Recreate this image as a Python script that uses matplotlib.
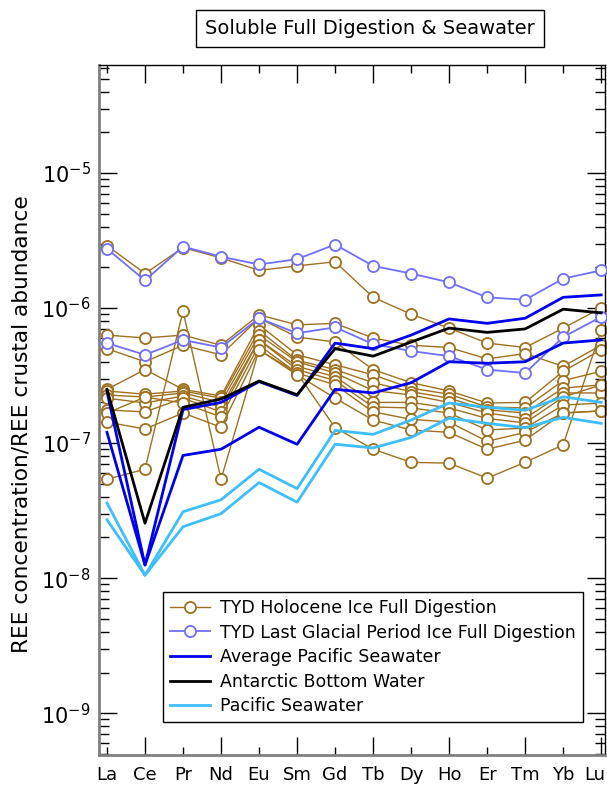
import numpy as np
import matplotlib.pyplot as plt
import matplotlib.transforms as mtransforms
from matplotlib.ticker import LogLocator, FixedLocator, NullFormatter

elements = ['La', 'Ce', 'Pr', 'Nd', 'Eu', 'Sm', 'Gd', 'Tb', 'Dy', 'Ho', 'Er', 'Tm', 'Yb', 'Lu']
decades = [1e-9, 1e-8, 1e-7, 1e-6, 1e-5]

# TYD Holocene ice, full digestion (one list per sample)
holo_1 = [2.9e-6, 1.8e-6, 2.8e-6, 2.35e-6, 1.9e-6, 2.05e-6, 2.2e-6, 1.2e-6, 9.0e-7, 7.1e-7, 5.5e-7, 5.1e-7, 7.1e-7, 1.0e-6]
holo_2 = [5.4e-8, 6.4e-8, 9.5e-7, 5.4e-8, 4.9e-7, 3.3e-7, 1.3e-7, 9.0e-8, 7.2e-8, 7.1e-8, 5.5e-8, 7.2e-8, 9.7e-8, 6.9e-7]
holo_3 = [6.3e-7, 6.0e-7, 6.3e-7, 5.3e-7, 8.9e-7, 7.5e-7, 7.7e-7, 6.0e-7, 5.3e-7, 5.1e-7, 4.2e-7, 4.6e-7, 3.7e-7, 5.3e-7]
holo_4 = [5.0e-7, 4.0e-7, 5.3e-7, 4.5e-7, 8.4e-7, 6.1e-7, 5.6e-7, 3.5e-7, 2.8e-7, 2.43e-7, 1.98e-7, 2.0e-7, 3.4e-7, 4.9e-7]
holo_5 = [2.5e-7, 3.5e-7, 2.5e-7, 2.23e-7, 7.5e-7, 4.5e-7, 3.8e-7, 3.2e-7, 2.55e-7, 2.3e-7, 1.85e-7, 1.82e-7, 2.9e-7, 3.4e-7]
holo_6 = [2.43e-7, 2.3e-7, 2.43e-7, 2.15e-7, 6.8e-7, 4.1e-7, 3.5e-7, 2.8e-7, 2.4e-7, 2.15e-7, 1.76e-7, 1.67e-7, 2.55e-7, 2.7e-7]
holo_7 = [2.27e-7, 2.19e-7, 2.35e-7, 2.0e-7, 6.3e-7, 4.0e-7, 3.3e-7, 2.45e-7, 2.27e-7, 2.0e-7, 1.67e-7, 1.52e-7, 2.35e-7, 2.35e-7]
holo_8 = [2.15e-7, 1.98e-7, 2.23e-7, 1.85e-7, 5.8e-7, 3.7e-7, 3.1e-7, 2.0e-7, 2.0e-7, 1.82e-7, 1.52e-7, 1.41e-7, 2.19e-7, 2.7e-7]
holo_9 = [1.76e-7, 1.7e-7, 2.15e-7, 1.7e-7, 5.8e-7, 3.5e-7, 2.9e-7, 1.85e-7, 1.82e-7, 1.67e-7, 1.25e-7, 1.29e-7, 1.91e-7, 1.98e-7]
holo_10 = [1.67e-7, 2.19e-7, 1.98e-7, 1.56e-7, 5.3e-7, 3.3e-7, 2.7e-7, 1.7e-7, 1.5e-7, 1.43e-7, 1.03e-7, 1.2e-7, 1.67e-7, 1.73e-7]
holo_11 = [1.43e-7, 1.27e-7, 1.67e-7, 1.31e-7, 4.9e-7, 3.2e-7, 2.15e-7, 1.48e-7, 1.25e-7, 1.2e-7, 9.0e-8, 1.05e-7, 1.67e-7, 1.73e-7]

# TYD Last Glacial Period ice, full digestion
glac_1 = [2.75e-6, 1.6e-6, 2.85e-6, 2.4e-6, 2.1e-6, 2.3e-6, 2.95e-6, 2.05e-6, 1.8e-6, 1.55e-6, 1.2e-6, 1.15e-6, 1.65e-6, 1.9e-6]
glac_2 = [5.5e-7, 4.5e-7, 5.8e-7, 5.1e-7, 8.4e-7, 6.5e-7, 7.2e-7, 5.4e-7, 4.8e-7, 4.4e-7, 3.5e-7, 3.3e-7, 6.1e-7, 8.6e-7]

# seawater references
avg_pac_1 = [2.4e-7, 1.25e-8, 1.77e-7, 2.0e-7, 2.85e-7, 2.25e-7, 5.5e-7, 5.0e-7, 6.3e-7, 8.3e-7, 7.7e-7, 8.4e-7, 1.2e-6, 1.25e-6]
avg_pac_2 = [1.2e-7, 1.25e-8, 8.1e-8, 9.0e-8, 1.31e-7, 9.8e-8, 2.5e-7, 2.35e-7, 2.8e-7, 4.0e-7, 3.9e-7, 4.0e-7, 5.5e-7, 5.8e-7]
aabw = [2.5e-7, 2.55e-8, 1.84e-7, 2.12e-7, 2.88e-7, 2.28e-7, 5.0e-7, 4.4e-7, 5.6e-7, 7.1e-7, 6.6e-7, 7.0e-7, 9.8e-7, 9.2e-7]
pac_sw_1 = [3.6e-8, 1.05e-8, 3.1e-8, 3.8e-8, 6.4e-8, 4.6e-8, 1.24e-7, 1.16e-7, 1.48e-7, 1.98e-7, 1.84e-7, 1.75e-7, 2.2e-7, 2.0e-7]
pac_sw_2 = [2.7e-8, 1.05e-8, 2.4e-8, 3.0e-8, 5.1e-8, 3.65e-8, 9.8e-8, 9.2e-8, 1.1e-7, 1.53e-7, 1.4e-7, 1.3e-7, 1.55e-7, 1.4e-7]

holocene = [holo_1, holo_2, holo_3, holo_4, holo_5, holo_6, holo_7, holo_8, holo_9, holo_10, holo_11]
glacial = [glac_1, glac_2]

brown = '#A0701E'
purple = '#6E6EFF'
blue = '#0000F0'
lblue = '#3CBEFF'

x = np.arange(len(elements))

fig = plt.figure(figsize=(6.07, 7.89), dpi=100)
ax = fig.add_axes([0.1631, 0.0431, 0.8336, 0.8745])

for i, s in enumerate(holocene):
    ax.plot(x, s, '-o', color=brown, lw=1.0, ms=8, mew=1.3, mfc='white', mec=brown,
            label='TYD Holocene Ice Full Digestion' if i == 0 else None, zorder=2, clip_on=False)
for i, s in enumerate(glacial):
    ax.plot(x, s, '-o', color=purple, lw=1.3, ms=8, mew=1.3, mfc='white', mec=purple,
            label='TYD Last Glacial Period Ice Full Digestion' if i == 0 else None, zorder=3, clip_on=False)

ax.plot(x, avg_pac_1, color=blue, lw=2.0, label='Average Pacific Seawater', zorder=4)
ax.plot(x, avg_pac_2, color=blue, lw=2.0, zorder=4)
ax.plot(x, aabw, color='black', lw=2.0, label='Antarctic Bottom Water', zorder=4)
ax.plot(x, pac_sw_1, color=lblue, lw=2.0, label='Pacific Seawater', zorder=4)
ax.plot(x, pac_sw_2, color=lblue, lw=2.0, zorder=4)

ax.set_yscale('log')
ax.set_ylim(4.9e-10, 6.3e-5)
ax.set_xlim(-0.21, 13.1)

ax.xaxis.set_major_locator(FixedLocator(x))
ax.set_xticklabels(elements, fontsize=13)
ax.xaxis.set_minor_locator(FixedLocator([]))
ax.tick_params(axis='x', which='major', direction='in', length=6, width=1,
               top=True, bottom=True, pad=8)
# every other tick on x is longer
for i, t in enumerate(ax.xaxis.get_major_ticks()):
    if i % 2 == 1:
        t.tick1line.set_markersize(13)
        t.tick2line.set_markersize(13)
# keep the last label inside the figure
lu = ax.get_xticklabels()[-1]
lu.set_transform(lu.get_transform() + mtransforms.ScaledTranslation(-6 / 100, 0, fig.dpi_scale_trans))

ax.yaxis.set_major_locator(FixedLocator(decades))
ax.set_yticklabels(['$10^{-9}$', '$10^{-8}$', '$10^{-7}$', '$10^{-6}$', '$10^{-5}$'])
ax.yaxis.set_minor_locator(LogLocator(base=10, subs=np.arange(2, 10), numticks=20))
ax.yaxis.set_minor_formatter(NullFormatter())
ax.tick_params(axis='y', which='major', direction='in', length=13, width=1,
               left=True, right=True, labelsize=15, pad=6)
ax.tick_params(axis='y', which='minor', direction='in', length=7, width=1,
               left=True, right=True)

for side in ['left', 'bottom']:
    ax.spines[side].set_color('#808080')
    ax.spines[side].set_linewidth(2)
for side in ['top', 'right']:
    ax.spines[side].set_color('black')
    ax.spines[side].set_linewidth(1)

fig.text(0.036, 0.4626, 'REE concentration/REE crustal abundance', rotation=90,
         ha='center', va='center', fontsize=15.6)

fig.text(0.6096, 0.9639, 'Soluble Full Digestion & Seawater', ha='center', va='center',
         fontsize=14, bbox=dict(boxstyle='square,pad=0.45', fc='white', ec='black', lw=1))

leg = ax.legend(loc='upper left', bbox_to_anchor=(0.2685, 0.2497), bbox_transform=fig.transFigure,
                fontsize=12.5, frameon=True, fancybox=False, edgecolor='black', framealpha=1,
                handlelength=2.3, handletextpad=0.6, labelspacing=0.38, borderpad=0.4,
                borderaxespad=0)
leg.get_frame().set_linewidth(1)

fig.savefig('out.png', dpi=100)
